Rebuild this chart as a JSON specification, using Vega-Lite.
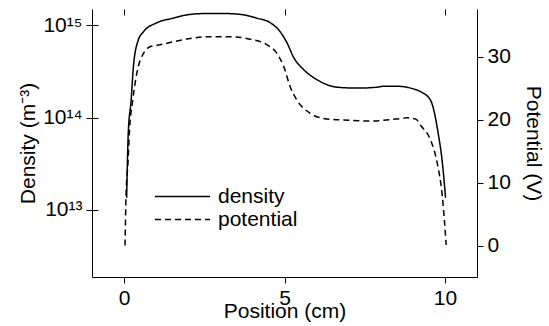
{
  "$schema": "https://vega.github.io/schema/vega-lite/v6.json",
  "width": 385,
  "height": 268,
  "autosize": {"type": "none"},
  "padding": {"left": 92, "top": 9, "right": 72, "bottom": 49},
  "config": {
    "font": "Liberation Sans",
    "view": {"stroke": null},
    "axis": {
      "domainColor": "black", "domainWidth": 1,
      "tickColor": "black", "tickSize": 6, "tickWidth": 1,
      "labelColor": "black", "labelFontSize": 21, "labelFont": "Liberation Sans",
      "titleColor": "black", "titleFontSize": 21, "titleFontWeight": "normal", "titleFont": "Liberation Sans",
      "grid": true, "gridColor": "black", "gridOpacity": 1, "gridWidth": 1, "gridDash": [6, 3000]
    },
    "legend": {
      "labelFontSize": 21, "labelColor": "black", "labelFont": "Liberation Sans"
    }
  },
  "datasets": {
    "density": [
      {"x": 0.08, "n": 1.35e13}, {"x": 0.13, "n": 6.76e13}, {"x": 0.22, "n": 1.55e14},
      {"x": 0.29, "n": 3.55e14}, {"x": 0.44, "n": 6.92e14}, {"x": 0.60, "n": 8.51e14},
      {"x": 1.02, "n": 1.07e15}, {"x": 1.53, "n": 1.20e15}, {"x": 2.06, "n": 1.32e15},
      {"x": 2.58, "n": 1.35e15}, {"x": 3.09, "n": 1.35e15}, {"x": 3.62, "n": 1.32e15},
      {"x": 4.14, "n": 1.20e15}, {"x": 4.56, "n": 1.07e15}, {"x": 4.87, "n": 8.51e14},
      {"x": 5.08, "n": 6.46e14}, {"x": 5.29, "n": 4.47e14}, {"x": 5.60, "n": 3.31e14},
      {"x": 6.02, "n": 2.57e14}, {"x": 6.64, "n": 2.14e14}, {"x": 7.27, "n": 2.09e14},
      {"x": 7.89, "n": 2.14e14}, {"x": 8.09, "n": 2.19e14}, {"x": 8.51, "n": 2.19e14},
      {"x": 8.93, "n": 2.09e14}, {"x": 9.24, "n": 1.91e14}, {"x": 9.55, "n": 1.55e14},
      {"x": 9.79, "n": 6.76e13}, {"x": 9.92, "n": 3.24e13}, {"x": 10.02, "n": 1.35e13}
    ],
    "potential": [
      {"x": 0.03, "v": 0.0}, {"x": 0.06, "v": 7.8}, {"x": 0.12, "v": 13.1},
      {"x": 0.17, "v": 18.4}, {"x": 0.27, "v": 23.1}, {"x": 0.44, "v": 28.4},
      {"x": 0.60, "v": 30.5}, {"x": 0.81, "v": 31.6}, {"x": 1.12, "v": 31.9},
      {"x": 1.54, "v": 32.4}, {"x": 2.06, "v": 32.9}, {"x": 2.58, "v": 33.2},
      {"x": 3.31, "v": 33.2}, {"x": 3.93, "v": 32.8}, {"x": 4.46, "v": 31.9},
      {"x": 4.77, "v": 30.5}, {"x": 4.98, "v": 28.4}, {"x": 5.18, "v": 25.2},
      {"x": 5.39, "v": 23.1}, {"x": 5.81, "v": 21.0}, {"x": 6.22, "v": 20.2},
      {"x": 6.85, "v": 19.95}, {"x": 7.68, "v": 19.8}, {"x": 8.46, "v": 20.1},
      {"x": 8.84, "v": 20.3}, {"x": 9.09, "v": 20.1}, {"x": 9.26, "v": 19.0},
      {"x": 9.55, "v": 16.8}, {"x": 9.76, "v": 13.1}, {"x": 9.92, "v": 7.8},
      {"x": 10.04, "v": 0.1}
    ]
  },
  "layer": [
    {
      "data": {"name": "density"},
      "mark": {"type": "line", "color": "black", "strokeWidth": 1.5, "interpolate": "monotone"},
      "encoding": {
        "x": {
          "field": "x", "type": "quantitative",
          "scale": {"domain": [-1, 11], "nice": false, "zero": false},
          "axis": {"values": [0, 5, 10], "title": "Position (cm)", "labelPadding": 4, "titlePadding": -8}
        },
        "y": {
          "field": "n", "type": "quantitative",
          "scale": {"type": "log", "domain": [1.86e12, 1.51e15], "nice": false},
          "axis": {
            "orient": "left", "values": [1e13, 1e14, 1e15],
            "labelExpr": "datum.value < 5e13 ? '10¹³' : datum.value < 5e14 ? '10¹⁴' : '10¹⁵'",
            "labelPadding": 4, "title": "Density (m⁻³)", "titlePadding": 4
          }
        },
        "strokeDash": {
          "datum": "density", "type": "nominal",
          "scale": {"domain": ["density", "potential"], "range": [[1, 0], [6, 4]]},
          "legend": {
            "title": null, "orient": "none", "legendX": 80, "legendY": 177,
            "symbolType": "M-5,0H5", "symbolSize": 121, "symbolStrokeWidth": 1.5,
            "symbolStrokeColor": "black", "symbolFillColor": "transparent",
            "labelOffset": 25, "rowPadding": 1, "padding": 0
          }
        }
      }
    },
    {
      "data": {"name": "potential"},
      "mark": {"type": "line", "color": "black", "strokeWidth": 1.5, "interpolate": "monotone"},
      "encoding": {
        "x": {"field": "x", "type": "quantitative"},
        "y": {
          "field": "v", "type": "quantitative",
          "scale": {"domain": [-5, 37.6], "nice": false, "zero": false},
          "axis": {"orient": "right", "values": [0, 10, 20, 30], "labelPadding": 4, "title": "Potential (V)", "titlePadding": 12}
        },
        "strokeDash": {"datum": "potential", "type": "nominal"}
      }
    }
  ],
  "resolve": {"scale": {"y": "independent"}}
}
